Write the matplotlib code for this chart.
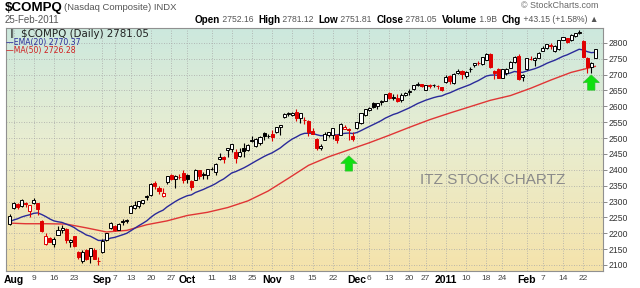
import numpy as np
import pandas as pd
import matplotlib
matplotlib.use('Agg')
import matplotlib.pyplot as plt
from matplotlib.patches import Polygon

W, H = 640, 288

# trading days Jul 30 2010 - Feb 25 2011 (market holidays removed)
holidays = ['2010-09-06', '2010-11-25', '2010-12-24', '2011-01-17', '2011-02-21']
dates = pd.bdate_range('2010-07-30', '2011-02-25')
dates = dates[~dates.isin(pd.to_datetime(holidays))]

opens = [
    2228, 2280, 2292, 2286, 2296, 2270, 2296, 2294, 2240, 2165,
    2185, 2166, 2196, 2209, 2214, 2172, 2190, 2142, 2112, 2146,
    2127, 2148, 2112, 2140, 2179, 2216, 2224, 2210, 2240, 2238,
    2265, 2280, 2285, 2296, 2316, 2320, 2357, 2343, 2316, 2360,
    2383, 2371, 2376, 2390, 2385, 2365, 2369, 2399, 2387, 2384,
    2402, 2394, 2433, 2439, 2463, 2466, 2456, 2442, 2469, 2463,
    2494, 2476, 2484, 2515, 2505, 2513, 2519, 2534, 2566, 2575,
    2573, 2583, 2562, 2558, 2553, 2523, 2498, 2469, 2495, 2511,
    2511, 2510, 2510, 2530, 2530, 2505, 2531, 2549, 2572, 2588,
    2611, 2601, 2615, 2618, 2643, 2629, 2625, 2619, 2637, 2645,
    2654, 2667, 2670, 2653, 2667, 2666, 2664, 2661, 2676, 2697,
    2673, 2704, 2712, 2696, 2719, 2730, 2737, 2733, 2747, 2766,
    2711, 2718, 2689, 2706, 2722, 2740, 2758, 2694, 2717, 2749,
    2747, 2754, 2774, 2783, 2794, 2776, 2781, 2810, 2815, 2808,
    2821, 2832, 2805, 2754, 2723, 2752.16]
highs = [
    2262, 2300, 2295, 2307, 2298, 2290, 2311, 2296, 2241, 2200,
    2189, 2187, 2224, 2227, 2217, 2182, 2192, 2145, 2148, 2150,
    2155, 2152, 2124, 2181, 2201, 2235, 2227, 2233, 2244, 2245,
    2288, 2301, 2303, 2306, 2322, 2358, 2365, 2350, 2344, 2381,
    2386, 2383, 2387, 2398, 2386, 2368, 2402, 2400, 2392, 2403,
    2410, 2423, 2454, 2442, 2469, 2481, 2467, 2470, 2483, 2481,
    2505, 2500, 2505, 2518, 2514, 2524, 2535, 2541, 2578, 2581,
    2582, 2592, 2579, 2565, 2556, 2533, 2500, 2480, 2519, 2519,
    2532, 2512, 2546, 2540, 2531, 2520, 2552, 2580, 2593, 2598,
    2613, 2610, 2620, 2639, 2646, 2638, 2640, 2641, 2644, 2654,
    2668, 2676, 2671, 2668, 2670, 2671, 2668, 2662, 2700, 2698,
    2704, 2717, 2715, 2710, 2723, 2738, 2744, 2755, 2768, 2767,
    2714, 2720, 2718, 2720, 2743, 2758, 2764, 2702, 2752, 2758,
    2756, 2770, 2789, 2797, 2799, 2793, 2810, 2818, 2816, 2828,
    2832, 2840, 2808, 2756, 2740, 2781.12]
lows = [
    2226, 2278, 2276, 2282, 2284, 2252, 2292, 2258, 2205, 2163,
    2172, 2157, 2194, 2200, 2168, 2158, 2157, 2118, 2105, 2117,
    2107, 2119, 2101, 2138, 2176, 2214, 2208, 2209, 2225, 2231,
    2264, 2278, 2280, 2292, 2304, 2317, 2341, 2325, 2313, 2356,
    2368, 2343, 2371, 2359, 2359, 2337, 2368, 2371, 2370, 2370,
    2398, 2384, 2430, 2422, 2439, 2457, 2421, 2440, 2440, 2460,
    2489, 2472, 2478, 2495, 2501, 2490, 2516, 2511, 2562, 2570,
    2570, 2553, 2548, 2545, 2507, 2512, 2463, 2461, 2494, 2503,
    2496, 2485, 2509, 2528, 2495, 2491, 2530, 2543, 2570, 2586,
    2595, 2591, 2605, 2616, 2624, 2620, 2615, 2613, 2632, 2635,
    2653, 2665, 2661, 2650, 2659, 2662, 2656, 2648, 2673, 2671,
    2672, 2702, 2685, 2690, 2708, 2723, 2730, 2730, 2745, 2720,
    2687, 2688, 2688, 2700, 2720, 2737, 2682, 2680, 2716, 2746,
    2727, 2752, 2773, 2780, 2780, 2770, 2779, 2808, 2801, 2806,
    2818, 2828, 2755, 2706, 2705, 2751.81]
closes = [
    2254.70, 2295.36, 2283.52, 2303.57, 2293.06, 2288.47, 2305.69, 2277.17, 2208.63, 2190.27,
    2173.48, 2181.87, 2209.44, 2215.70, 2178.95, 2179.76, 2159.63, 2123.76, 2141.54, 2118.69,
    2153.63, 2119.97, 2114.03, 2176.84, 2200.01, 2233.75, 2208.89, 2228.87, 2236.20, 2242.48,
    2285.71, 2289.77, 2301.32, 2303.25, 2315.61, 2355.83, 2349.35, 2334.28, 2327.08, 2381.22,
    2369.77, 2379.59, 2376.56, 2368.62, 2370.75, 2344.52, 2399.83, 2380.66, 2383.67, 2401.91,
    2402.33, 2417.92, 2441.23, 2435.38, 2468.77, 2480.66, 2436.95, 2457.39, 2459.67, 2479.39,
    2490.85, 2497.29, 2503.26, 2507.37, 2507.41, 2504.84, 2533.52, 2540.27, 2577.34, 2578.98,
    2580.05, 2562.98, 2578.78, 2555.52, 2518.21, 2513.82, 2469.84, 2476.01, 2514.40, 2518.12,
    2532.02, 2494.95, 2543.12, 2534.56, 2525.22, 2498.23, 2549.43, 2579.35, 2591.46, 2594.92,
    2598.49, 2609.16, 2616.67, 2637.54, 2624.91, 2627.72, 2617.22, 2637.31, 2642.97, 2649.56,
    2667.61, 2671.48, 2665.60, 2667.27, 2662.88, 2666.93, 2662.98, 2652.87, 2691.52, 2681.25,
    2702.20, 2709.89, 2703.17, 2707.80, 2716.83, 2737.33, 2735.29, 2755.30, 2765.85, 2725.36,
    2704.29, 2689.54, 2717.55, 2719.25, 2739.50, 2755.28, 2686.89, 2700.08, 2751.19, 2749.56,
    2753.88, 2769.30, 2783.99, 2797.05, 2789.07, 2790.45, 2809.44, 2817.18, 2804.35, 2825.56,
    2831.58, 2833.95, 2756.42, 2722.99, 2737.90, 2781.05]

ema20 = [
    2236.0, 2241.7, 2245.6, 2251.2, 2255.1, 2258.3, 2262.8, 2264.2, 2258.9, 2252.4,
    2244.9, 2238.9, 2236.1, 2234.1, 2228.9, 2224.2, 2218.0, 2209.1, 2202.6, 2194.6,
    2190.7, 2184.0, 2177.3, 2177.3, 2179.5, 2184.6, 2186.9, 2190.9, 2195.2, 2199.7,
    2207.9, 2215.7, 2223.9, 2231.4, 2239.4, 2250.5, 2259.9, 2267.0, 2272.7, 2283.1,
    2291.3, 2299.7, 2307.0, 2312.9, 2318.4, 2320.9, 2328.4, 2333.4, 2338.2, 2344.2,
    2349.8, 2356.3, 2364.4, 2371.1, 2380.4, 2390.0, 2394.4, 2400.4, 2406.1, 2413.0,
    2420.5, 2427.8, 2435.0, 2441.9, 2448.1, 2453.5, 2461.1, 2468.7, 2479.0, 2488.5,
    2497.2, 2503.5, 2510.7, 2514.9, 2515.2, 2515.1, 2510.8, 2507.5, 2508.1, 2509.1,
    2511.3, 2509.7, 2512.9, 2515.0, 2515.9, 2514.3, 2517.6, 2523.5, 2530.0, 2536.1,
    2542.1, 2548.5, 2555.0, 2562.8, 2568.7, 2574.4, 2578.4, 2584.0, 2589.7, 2595.4,
    2602.2, 2608.8, 2614.2, 2619.3, 2623.4, 2627.6, 2630.9, 2633.0, 2638.6, 2642.7,
    2648.3, 2654.2, 2658.9, 2663.5, 2668.6, 2675.1, 2680.9, 2688.0, 2695.4, 2698.2,
    2698.8, 2697.9, 2699.8, 2701.7, 2705.3, 2710.0, 2707.8, 2707.1, 2711.3, 2714.9,
    2718.6, 2723.5, 2729.2, 2735.7, 2740.8, 2745.5, 2751.6, 2757.8, 2762.3, 2768.3,
    2774.3, 2780.0, 2777.8, 2772.5, 2769.2, 2770.4]

ma50_dates = ['2010-07-30', '2010-08-05', '2010-08-12', '2010-08-19', '2010-08-26',
              '2010-09-02', '2010-09-10', '2010-09-17', '2010-09-24', '2010-10-01',
              '2010-10-08', '2010-10-15', '2010-10-22', '2010-10-29', '2010-11-05',
              '2010-11-12', '2010-11-19', '2010-11-29', '2010-12-06', '2010-12-13',
              '2010-12-20', '2010-12-28', '2011-01-04', '2011-01-11', '2011-01-19',
              '2011-01-26', '2011-02-02', '2011-02-09', '2011-02-16', '2011-02-24',
              '2011-02-25']
ma50 = [2232, 2230, 2230, 2229, 2217, 2204, 2209, 2227, 2239, 2256,
        2266, 2281, 2302, 2333, 2373, 2414, 2441, 2463, 2485, 2509,
        2534, 2558, 2579, 2599, 2619, 2634, 2657, 2683, 2707, 2723,
        2726]

# x-axis labels
tick_dates = ['2010-08-02', '2010-08-09', '2010-08-16', '2010-08-23', '2010-09-01',
              '2010-09-07', '2010-09-13', '2010-09-20', '2010-09-27', '2010-10-01',
              '2010-10-11', '2010-10-18', '2010-10-25', '2010-11-01', '2010-11-08',
              '2010-11-15', '2010-11-22', '2010-12-01', '2010-12-06', '2010-12-13',
              '2010-12-20', '2010-12-27', '2011-01-03', '2011-01-10', '2011-01-18',
              '2011-01-24', '2011-02-01', '2011-02-07', '2011-02-14', '2011-02-22']
tick_labels = ['Aug', '9', '16', '23', 'Sep', '7', '13', '20', '27', 'Oct',
               '11', '18', '25', 'Nov', '8', '15', '22', 'Dec', '6', '13',
               '20', '27', '2011', '10', '18', '24', 'Feb', '7', '14', '22']
y_ticks = list(range(2100, 2801, 50))

# green signal arrows (date, tip value)
arrow_dates = ['2010-11-29', '2011-02-24']
arrow_tips = [2444, 2699]

plt.rcParams['font.family'] = ['Liberation Sans', 'DejaVu Sans']

fig = plt.figure(figsize=(W / 100, H / 100), dpi=100)
fig.patch.set_facecolor('white')
ax = fig.add_axes([6 / W, 1 - 271 / H, 597 / W, 243 / H])

x = np.arange(len(dates))
o, h, l, c = (np.array(v, dtype=float) for v in (opens, highs, lows, closes))
prev = np.r_[c[0], c[:-1]]
red = '#e00000'
edge = np.where(c >= prev, 'black', red)
fill = np.where(c < o, edge, 'white')

xmin, xmax = -0.87, 146.9
ymin, ymax = 2081, 2847

# background gradient, teal on top fading to tan
stops = np.array([[0.80, 0.91, 0.87], [0.91, 0.93, 0.82], [0.96, 0.89, 0.67]])
t = np.linspace(0, 1, 256)
grad = np.empty((256, 1, 3))
for k in range(3):
    grad[:, 0, k] = np.interp(t, [0, 0.45, 1], stops[:, k])
ax.imshow(grad, extent=[xmin, xmax, ymin, ymax], aspect='auto', zorder=0,
          interpolation='bilinear')

tick_x = dates.get_indexer(pd.to_datetime(tick_dates))
for tx in tick_x:
    ax.axvline(tx, color='#a8a8a8', lw=0.6, ls=(0, (1, 2)), zorder=1)
for ty in y_ticks:
    ax.axhline(ty, color='#a8a8a8', lw=0.6, ls=(0, (1, 2)), zorder=1)

ma_x = dates.get_indexer(pd.to_datetime(ma50_dates))
ax.plot(ma_x, ma50, color='#e03535', lw=1.0, zorder=2)
ax.plot(x, ema20, color='#2a2a9a', lw=1.0, zorder=2)

ax.vlines(x, l, h, colors=edge, lw=0.8, zorder=3)
ax.bar(x, np.maximum(np.abs(c - o), 0.8), bottom=np.minimum(o, c), width=0.75,
       color=fill, edgecolor=edge, linewidth=0.7, zorder=4)

# block arrows
arr_x = dates.get_indexer(pd.to_datetime(arrow_dates))
for ax_i, tip in zip(arr_x, arrow_tips):
    hw, sw, hh, sh = 2.0, 0.9, 24, 24
    pts = [(ax_i, tip), (ax_i + hw, tip - hh), (ax_i + sw, tip - hh),
           (ax_i + sw, tip - hh - sh), (ax_i - sw, tip - hh - sh),
           (ax_i - sw, tip - hh), (ax_i - hw, tip - hh)]
    ax.add_patch(Polygon(pts, closed=True, facecolor='#10e010',
                         edgecolor='#30c030', lw=0.5, zorder=5))

ax.text(0.816, 0.374, 'ITZ STOCK CHARTZ', transform=ax.transAxes, ha='center',
        va='center', fontsize=11, color='#8a8a8a', zorder=5)

ax.set_xlim(xmin, xmax)
ax.set_ylim(ymin, ymax)
ax.yaxis.tick_right()
ax.set_yticks(y_ticks)
ax.set_yticklabels([str(v) for v in y_ticks])
ax.tick_params(axis='y', length=3, width=0.6, color='#777777', labelsize=6.2,
               labelcolor='#333333', pad=1)
ax.set_xticks(tick_x)
ax.set_xticklabels(tick_labels)
ax.tick_params(axis='x', length=0, pad=3, labelsize=6, labelcolor='#444444')
for lab in ax.get_xticklabels():
    if not lab.get_text().isdigit() or lab.get_text() == '2011':
        lab.set_fontweight('bold')
        lab.set_fontsize(7.5)
        lab.set_color('black')
for sp in ax.spines.values():
    sp.set_color('#909090')
    sp.set_linewidth(0.8)

# legend block in upper left
fig.text(10 / W, 1 - 34 / H, '\u2016', fontsize=6, color='#333333', va='center',
         family='DejaVu Sans')
fig.text(21 / W, 1 - 34 / H, '$COMPQ (Daily) 2781.05', fontsize=7.4, color='#222222',
         va='center', family='DejaVu Sans')
fig.text(6 / W, 1 - 43 / H, '\u2014EMA(20) 2770.37', fontsize=5.6, color='#2a2a9a',
         va='center', family='DejaVu Sans')
fig.text(6 / W, 1 - 51 / H, '\u2014MA(50) 2726.28', fontsize=5.6, color='#d02020',
         va='center', family='DejaVu Sans')

# header
fig.text(5 / W, 1 - 8 / H, '$COMPQ', fontsize=9.6, fontweight='bold', va='center')
fig.text(64 / W, 1 - 8 / H, '(Nasdaq Composite) INDX', fontsize=6.8, color='#555555',
         va='center')
fig.text(598 / W, 1 - 6 / H, '\u00a9 StockCharts.com', fontsize=6.4, color='#666666',
         va='center', ha='right')
fig.text(5 / W, 1 - 20 / H, '25-Feb-2011', fontsize=7.0, color='#555555', va='center')

parts = [('Open', True), (' 2752.16  ', False), ('High', True), (' 2781.12  ', False),
         ('Low', True), (' 2751.81  ', False), ('Close', True), (' 2781.05  ', False),
         ('Volume', True), (' 1.9B  ', False), ('Chg', True), (' +43.15 (+1.58%) \u25b2', False)]
r = fig.canvas.get_renderer()
texts = []
widths = []
for s, b in parts:
    tt = fig.text(0, 1 - 20 / H, s, fontsize=7.1 if b else 6.2,
                  fontweight='bold' if b else 'normal',
                  color='black' if b else '#555555', va='center')
    texts.append(tt)
    widths.append(tt.get_window_extent(renderer=r).width)
pos = 598 - sum(widths)
for tt, w in zip(texts, widths):
    tt.set_x(pos / W)
    pos += w

fig.savefig('out.png', dpi=100, facecolor='white')
